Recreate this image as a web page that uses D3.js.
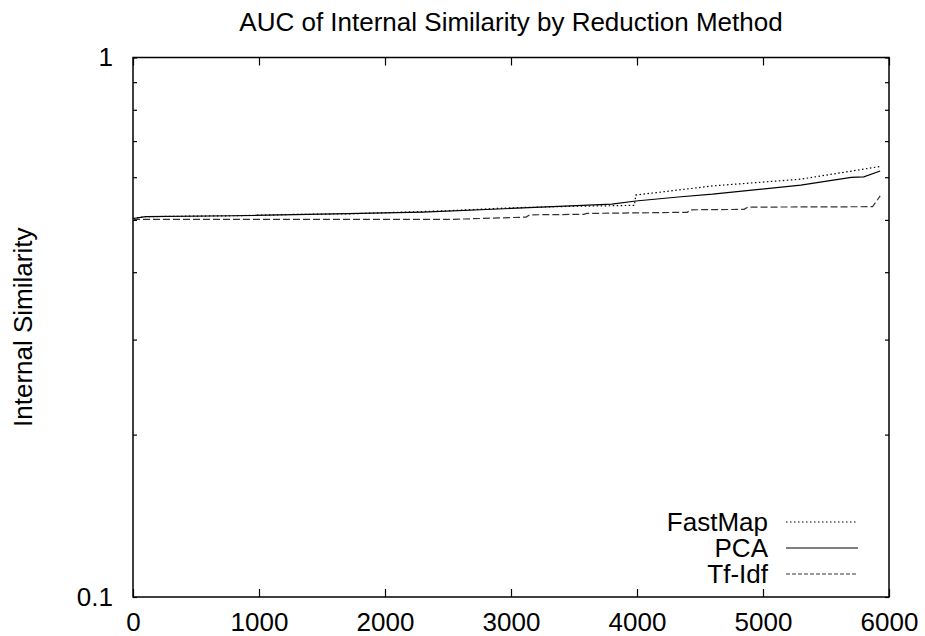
<!DOCTYPE html>
<html>
<head>
<meta charset="utf-8">
<script src="https://cdnjs.cloudflare.com/ajax/libs/d3/7.8.5/d3.min.js"></script>
<style>
  body { margin: 0; background: #fff; }
  svg text { font-family: "Liberation Sans", Arial, sans-serif; font-size: 26px; fill: #000; }
</style>
</head>
<body>
<svg id="chart" width="925" height="636"></svg>
<script>
// values: [index, internal similarity]
const fastMap = [[0, 0.503], [100, 0.507], [800, 0.509], [1300, 0.512], [1700, 0.513], [2500, 0.520],
  [3000, 0.5265], [3500, 0.530], [3980, 0.532], [3990, 0.556], [4600, 0.578], [5300, 0.595], [5930, 0.628]];
const pca = [[0, 0.503], [100, 0.507], [800, 0.509], [1600, 0.513], [2300, 0.517], [3000, 0.525],
  [3800, 0.535], [3990, 0.542], [4350, 0.552], [4600, 0.558], [5300, 0.580], [5700, 0.5995],
  [5800, 0.601], [5930, 0.616]];
const tfIdf = [[0, 0.501], [2500, 0.501], [3000, 0.505], [3120, 0.506], [3150, 0.511], [3580, 0.512],
  [3600, 0.514], [4400, 0.5165], [4420, 0.522], [4850, 0.523], [4880, 0.528], [5870, 0.529], [5930, 0.554]];

const xTicks = [0, 1000, 2000, 3000, 4000, 5000, 6000];
const yTicks = [0.1, 0.2, 0.3, 0.4, 0.5, 0.6, 0.7, 0.8, 0.9, 1];
const yLabels = [0.1, 1];

const series = [
  {name: "FastMap", data: fastMap, dash: "1.5,2.5", color: "#000"},
  {name: "PCA", data: pca, dash: null, color: "#000"},
  {name: "Tf-Idf", data: tfIdf, dash: "7,3", color: "#333"}
];

const m = {left: 133, right: 889, top: 57.5, bottom: 597};
const svg = d3.select("#chart");

const x = d3.scaleLinear().domain([0, 6000]).range([m.left, m.right]);
const y = d3.scaleLog().domain([0.1, 1]).range([m.bottom, m.top]);

// axes: ticks point inward like gnuplot
svg.append("g").attr("transform", `translate(0,${m.bottom})`)
  .call(d3.axisBottom(x).tickValues(xTicks).tickSize(-8).tickPadding(16).tickFormat(d3.format("d")));
svg.append("g").attr("transform", `translate(0,${m.top})`)
  .call(d3.axisTop(x).tickValues(xTicks).tickSize(-8).tickFormat(""));
svg.append("g").attr("transform", `translate(${m.left},0)`)
  .call(d3.axisLeft(y).tickValues(yTicks).tickSize(-4).tickPadding(20)
    .tickFormat(d => yLabels.includes(d) ? d3.format("")(d) : ""));
svg.append("g").attr("transform", `translate(${m.right},0)`)
  .call(d3.axisRight(y).tickValues(yTicks).tickSize(-4).tickFormat(""));

svg.selectAll(".domain").remove();
svg.selectAll(".tick line").attr("stroke", "#000").attr("stroke-width", 1.2);
svg.selectAll(".tick text").style("font-size", "26px").attr("fill", "#000");

svg.append("rect")
  .attr("x", m.left).attr("y", m.top)
  .attr("width", m.right - m.left).attr("height", m.bottom - m.top)
  .attr("fill", "none").attr("stroke", "#000").attr("stroke-width", 1.5);

// lines
const line = d3.line().x(d => x(d[0])).y(d => y(d[1]));
svg.selectAll(".series")
  .data(series)
  .enter().append("path")
    .attr("class", "series")
    .attr("d", d => line(d.data))
    .attr("fill", "none")
    .attr("stroke", d => d.color)
    .attr("stroke-width", 1.2)
    .attr("stroke-dasharray", d => d.dash);

// legend
const legend = svg.selectAll(".legend")
  .data(series)
  .enter().append("g")
    .attr("class", "legend")
    .attr("transform", (d, i) => `translate(0,${522 + i * 26})`);
legend.append("text")
  .attr("x", 768).attr("dy", "0.35em")
  .attr("text-anchor", "end")
  .text(d => d.name);
legend.append("line")
  .attr("x1", 786).attr("x2", 858)
  .attr("stroke", d => d.color)
  .attr("stroke-width", 1.2)
  .attr("stroke-dasharray", d => d.name === "Tf-Idf" ? "4,2" : d.dash);

// titles
svg.append("text")
  .attr("x", (m.left + m.right) / 2).attr("y", 31)
  .attr("text-anchor", "middle")
  .text("AUC of Internal Similarity by Reduction Method");
svg.append("text")
  .attr("transform", `translate(23,${(m.top + m.bottom) / 2}) rotate(-90)`)
  .attr("text-anchor", "middle").attr("dy", "0.35em")
  .text("Internal Similarity");
</script>
</body>
</html>
